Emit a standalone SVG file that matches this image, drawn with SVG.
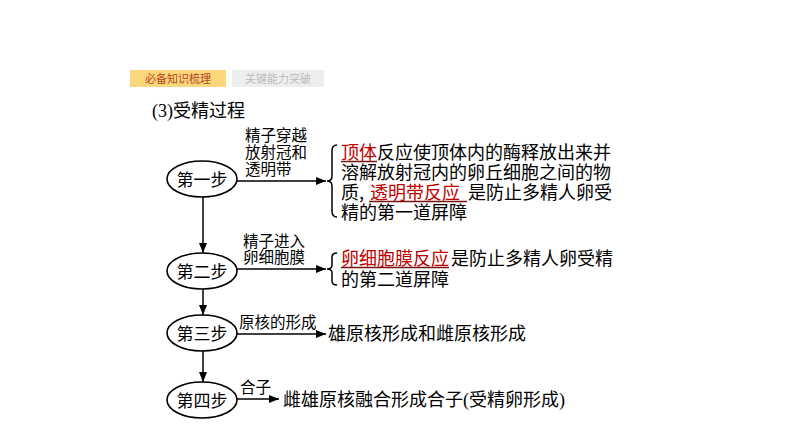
<svg xmlns="http://www.w3.org/2000/svg" width="794" height="447" viewBox="0 0 794 447">
<style>
.cjk{font-family:"Noto Sans CJK SC","Noto Sans",sans-serif;fill:#000}
.lbl{font-size:15.5px}
.big{font-size:18px}
.red{fill:#c00000}
.node ellipse{fill:#fff;stroke:#000;stroke-width:1.6}
.conn line,.conn path{stroke:#000;stroke-width:1.5;fill:none}
.ul{stroke:#7a1010;stroke-width:1.3}
</style>
<defs>
<marker id="ah" viewBox="0 0 10 8" refX="10" refY="4" markerWidth="10" markerHeight="8" markerUnits="userSpaceOnUse" orient="auto">
<path d="M0,0 L10,4 L0,8 Z" fill="#000"/>
</marker>
</defs>
<rect width="794" height="447" fill="#fff"/>
<g id="tabs">
<rect x="130" y="70" width="96" height="17" fill="#fbd77b"/>
<text x="178" y="82.5" text-anchor="middle" class="cjk" style="font-size:11px;fill:#b5472a">必备知识梳理</text>
<rect x="232" y="70" width="92" height="17" fill="#eeeeee"/>
<text x="278" y="82.5" text-anchor="middle" class="cjk" style="font-size:11px;fill:#bbbbbb">关键能力突破</text>
</g>
<g id="title">
<text x="152" y="117" style="font-size:18px"><tspan style="font-family:'Liberation Serif',serif">(3)</tspan><tspan class="cjk">受精过程</tspan></text>
</g>
<g class="conn" id="connectors">
<line x1="237" y1="181" x2="326" y2="181" marker-end="url(#ah)"/>
<line x1="237" y1="269" x2="326" y2="269" marker-end="url(#ah)"/>
<line x1="237" y1="334" x2="326" y2="334" marker-end="url(#ah)"/>
<line x1="237" y1="399" x2="279" y2="399" marker-end="url(#ah)"/>
<line x1="203" y1="197" x2="203" y2="253" marker-end="url(#ah)"/>
<line x1="203" y1="289" x2="203" y2="315" marker-end="url(#ah)"/>
<line x1="203" y1="351" x2="203" y2="382" marker-end="url(#ah)"/>
<path d="M337,145 Q332,145 332,151 L332,176 Q332,181 327,181 Q332,181 332,186 L332,211 Q332,217 337,217"/>
<path d="M337,253 Q332,253 332,257 L332,265 Q332,269 327,269 Q332,269 332,273 L332,281 Q332,285 337,285"/>
</g>
<g id="step1" class="node">
<ellipse cx="202" cy="179" rx="35" ry="18"/>
<text x="202" y="185.5" text-anchor="middle" class="cjk" style="font-size:17px">第一步</text>
</g>
<g id="step2" class="node">
<ellipse cx="202" cy="271" rx="35" ry="18"/>
<text x="202" y="277.5" text-anchor="middle" class="cjk" style="font-size:17px">第二步</text>
</g>
<g id="step3" class="node">
<ellipse cx="202" cy="333" rx="35" ry="18"/>
<text x="202" y="339.5" text-anchor="middle" class="cjk" style="font-size:17px">第三步</text>
</g>
<g id="step4" class="node">
<ellipse cx="202" cy="400" rx="35" ry="18"/>
<text x="202" y="406.5" text-anchor="middle" class="cjk" style="font-size:17px">第四步</text>
</g>
<g id="labels">
<text class="cjk lbl" x="245" y="141">精子穿越</text>
<text class="cjk lbl" x="245" y="158">放射冠和</text>
<text class="cjk lbl" x="245" y="175">透明带</text>
<text class="cjk lbl" x="243" y="247">精子进入</text>
<text class="cjk lbl" x="243" y="263">卵细胞膜</text>
<text class="cjk lbl" x="239" y="328">原核的形成</text>
<text class="cjk lbl" x="240" y="393">合子</text>
</g>
<g id="block1">
<text class="cjk big" x="341" y="159"><tspan class="red">顶体</tspan>反应使顶体内的酶释放出来并</text>
<line class="ul" x1="341" y1="161.5" x2="377" y2="161.5"/>
<text class="cjk big" x="341" y="179">溶解放射冠内的卵丘细胞之间的物</text>
<text class="cjk big" x="341" y="199">质,<tspan class="red" x="370">透明带反应</tspan><tspan x="468">是防止多精人卵受</tspan></text>
<line class="ul" x1="369" y1="201.5" x2="467" y2="201.5"/>
<text class="cjk big" x="341" y="219">精的第一道屏障</text>
</g>
<g id="block2">
<text class="cjk big" x="341" y="265"><tspan class="red">卵细胞膜反应</tspan><tspan x="451">是防止多精人卵受精</tspan></text>
<line class="ul" x1="341" y1="267.5" x2="449" y2="267.5"/>
<text class="cjk big" x="341" y="286">的第二道屏障</text>
</g>
<g id="block3">
<text class="cjk big" x="328" y="340">雄原核形成和雌原核形成</text>
<text class="cjk big" x="283" y="406">雌雄原核融合形成合子<tspan style="font-family:'Liberation Serif',serif">(</tspan>受精卵形成<tspan style="font-family:'Liberation Serif',serif">)</tspan></text>
</g>
</svg>
